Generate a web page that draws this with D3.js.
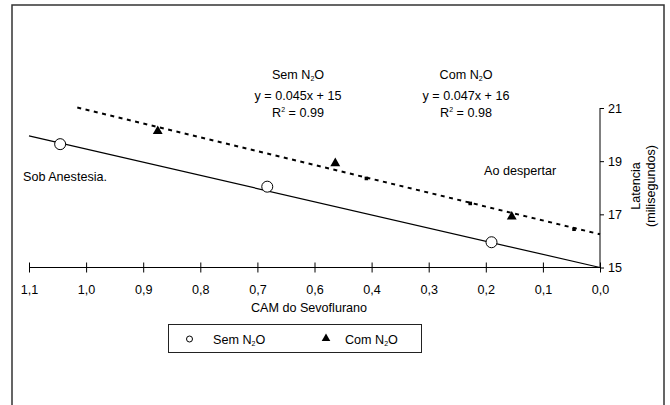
<!DOCTYPE html>
<html>
<head>
<meta charset="utf-8">
<script src="https://cdn.jsdelivr.net/npm/d3@7"></script>
<style>
  body { margin: 0; background: #fff; }
  svg text { font-family: "Liberation Sans", Arial, sans-serif; font-size: 12.6px; fill: #000; }
</style>
</head>
<body>
<svg id="chart" width="670" height="405"></svg>
<script>
// x is CAM in percent (1,1 = 110), y is latency in ms
var xTickValues = [110, 99, 88, 77, 66, 55, 44, 33, 22, 11, 0];
var xTickLabels = ["1,1", "1,0", "0,9", "0,8", "0,7", "0,6", "0,4", "0,3", "0,2", "0,1", "0,0"];
var yTickValues = [15, 17, 19, 21];

var semX = [104.0, 64.1, 20.9];
var semY = [19.64, 18.04, 15.95];

var comX = [85.2, 51.0, 17.0];
var comY = [20.13, 18.92, 16.91];

// small square marks sitting on the dashed trend line
var marksX = [45, 25, 5];
var marksY = [18.35, 17.41, 16.44];

// trend line end points
var semTrendX = [110, 0];
var semTrendY = [19.95, 15.0];
var comTrendX = [100.7, 0];
var comTrendY = [21.02, 16.25];

var svg = d3.select("#chart");

var x = d3.scaleLinear().domain([110, 0]).range([29, 600]);
var y = d3.scaleLinear().domain([15, 21]).range([267.5, 108]);

// outer frame
svg.append("rect")
  .attr("x", 12).attr("y", 5)
  .attr("width", 652).attr("height", 430)
  .attr("fill", "none")
  .attr("stroke", "#333")
  .attr("stroke-width", 1.5);

// x axis
var xAxis = svg.append("g")
  .attr("transform", "translate(0," + y(15) + ")")
  .call(d3.axisBottom(x)
    .tickValues(xTickValues)
    .tickSize(5)
    .tickPadding(13)
    .tickFormat(function(d, i) { return xTickLabels[i]; }));
xAxis.select(".domain").attr("stroke", "#000").attr("d", "M" + x(110) + ",0H" + x(0));
xAxis.selectAll(".tick line").attr("y1", -5).attr("stroke", "#000");
xAxis.attr("font-size", null).attr("font-family", null);

// y axis on the right
var yAxis = svg.append("g")
  .attr("transform", "translate(" + x(0) + ",0)")
  .call(d3.axisRight(y)
    .tickValues(yTickValues)
    .tickSize(4)
    .tickPadding(4)
    .tickFormat(d3.format("d")));
yAxis.select(".domain").attr("stroke", "#000").attr("d", "M0," + y(21) + "V" + y(15));
yAxis.selectAll(".tick line").attr("stroke", "#000");
yAxis.attr("font-size", null).attr("font-family", null);

svg.append("text")
  .attr("x", 309).attr("y", 311.5)
  .attr("text-anchor", "middle")
  .text("CAM do Sevoflurano");

svg.append("text")
  .attr("transform", "translate(640,186) rotate(-90)")
  .attr("text-anchor", "middle")
  .text("Latencia");
svg.append("text")
  .attr("transform", "translate(654.5,186) rotate(-90)")
  .attr("text-anchor", "middle")
  .text("(milisegundos)");

// trend lines
var line = d3.line()
  .x(function(d) { return x(d[0]); })
  .y(function(d) { return y(d[1]); });

svg.append("path")
  .attr("d", line(d3.zip(semTrendX, semTrendY)))
  .attr("fill", "none")
  .attr("stroke", "#000")
  .attr("stroke-width", 1.2);

svg.append("path")
  .attr("d", line(d3.zip(comTrendX, comTrendY)))
  .attr("fill", "none")
  .attr("stroke", "#000")
  .attr("stroke-width", 2)
  .attr("stroke-dasharray", "4,4.5");

svg.selectAll(".mark")
  .data(d3.zip(marksX, marksY))
  .enter().append("rect")
    .attr("class", "mark")
    .attr("x", function(d) { return x(d[0]) - 1.8; })
    .attr("y", function(d) { return y(d[1]) - 1.8; })
    .attr("width", 3.6).attr("height", 3.6)
    .attr("fill", "#000");

// points
svg.selectAll(".sem")
  .data(d3.zip(semX, semY))
  .enter().append("circle")
    .attr("class", "sem")
    .attr("cx", function(d) { return x(d[0]); })
    .attr("cy", function(d) { return y(d[1]); })
    .attr("r", 5.5)
    .attr("fill", "#fff")
    .attr("stroke", "#000")
    .attr("stroke-width", 1);

var tri = d3.symbol().type(d3.symbolTriangle).size(42);
svg.selectAll(".com")
  .data(d3.zip(comX, comY))
  .enter().append("path")
    .attr("class", "com")
    .attr("d", tri)
    .attr("transform", function(d) { return "translate(" + x(d[0]) + "," + y(d[1]) + ")"; })
    .attr("fill", "#000");

// N2O label with subscript
function n2o(sel, prefix) {
  sel.append("tspan").text(prefix + "N");
  sel.append("tspan").attr("font-size", "7px").attr("dy", 2).text("2");
  sel.append("tspan").attr("dy", -2).text("O");
}

// equation annotations
var notes = [
  { cx: 298, name: "Sem ", eq: "y = 0.045x + 15", r2: "0.99" },
  { cx: 466, name: "Com ", eq: "y = 0.047x + 16", r2: "0.98" }
];
notes.forEach(function(n) {
  svg.append("text").attr("x", n.cx).attr("y", 79).attr("text-anchor", "middle").call(n2o, n.name);
  svg.append("text").attr("x", n.cx).attr("y", 100).attr("text-anchor", "middle").text(n.eq);
  var r = svg.append("text").attr("x", n.cx).attr("y", 117).attr("text-anchor", "middle");
  r.append("tspan").text("R");
  r.append("tspan").attr("font-size", "7px").attr("dy", -5).text("2");
  r.append("tspan").attr("dy", 5).text(" = " + n.r2);
});

svg.append("text").attr("x", 23).attr("y", 181).text("Sob Anestesia.");
svg.append("text").attr("x", 484).attr("y", 175).text("Ao despertar");

// legend
svg.append("rect")
  .attr("x", 168.5).attr("y", 324.5)
  .attr("width", 253).attr("height", 28)
  .attr("fill", "#fff")
  .attr("stroke", "#222")
  .attr("stroke-width", 1);
svg.append("circle")
  .attr("cx", 189.5).attr("cy", 339)
  .attr("r", 3)
  .attr("fill", "#fff")
  .attr("stroke", "#000");
svg.append("text").attr("x", 213).attr("y", 344).call(n2o, "Sem ");
svg.append("path")
  .attr("d", d3.symbol().type(d3.symbolTriangle).size(32))
  .attr("transform", "translate(326,338.5)")
  .attr("fill", "#000");
svg.append("text").attr("x", 345).attr("y", 344).call(n2o, "Com ");
</script>
</body>
</html>
